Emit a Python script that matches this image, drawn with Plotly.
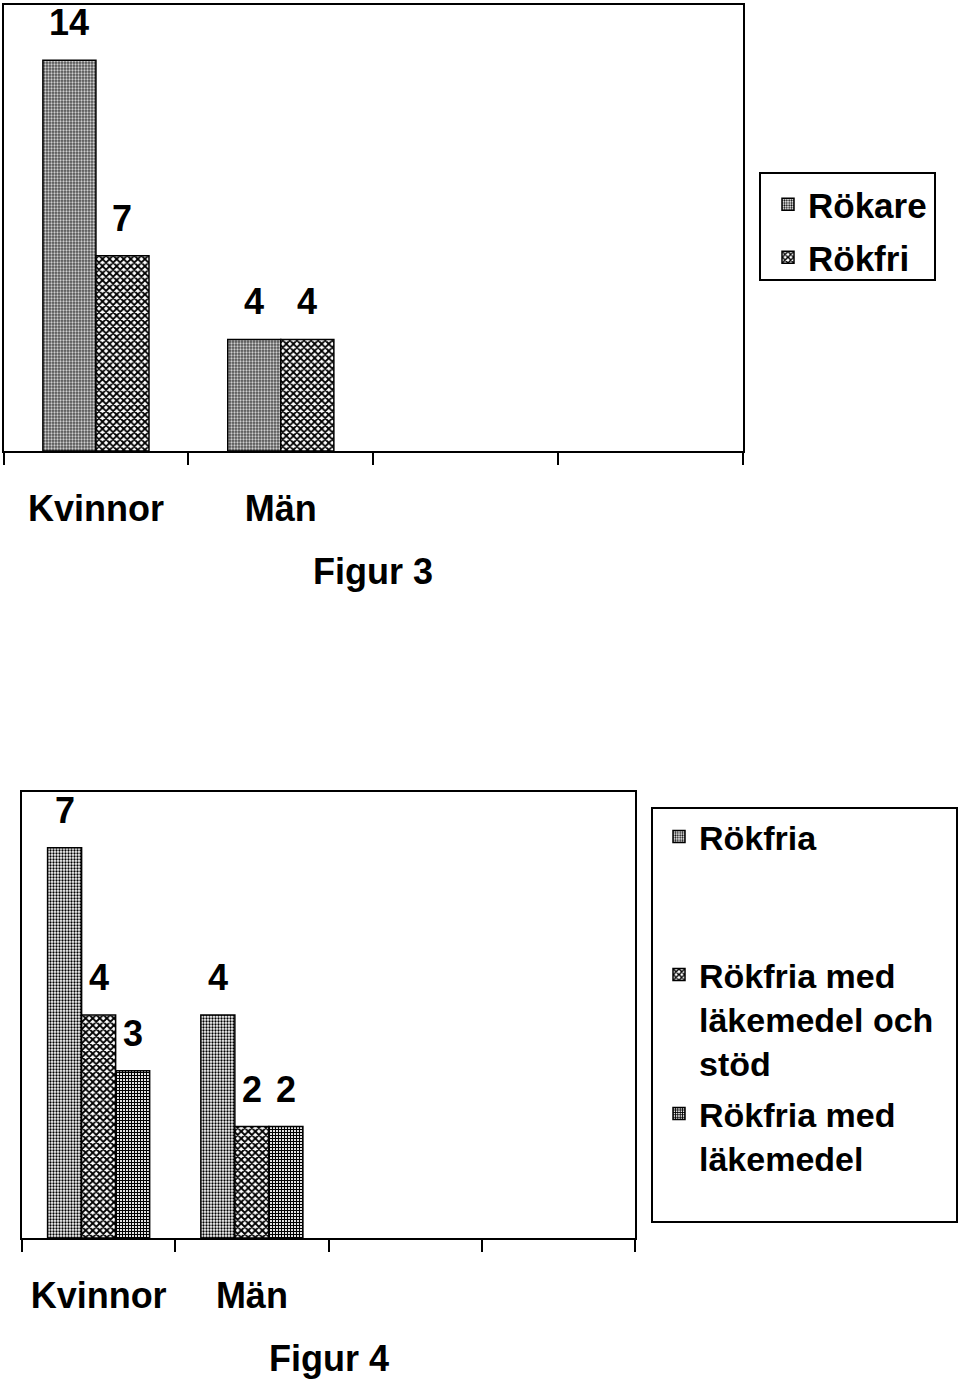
import plotly.graph_objects as go

# ---------------- data ----------------
fig3_categories = ["Kvinnor", "Män"]
fig3_series = ["Rökare", "Rökfri"]
fig3_rokare = [14, 4]
fig3_rokfri = [7, 4]

fig4_categories = ["Kvinnor", "Män"]
fig4_series = ["Rökfria", "Rökfria med<br>läkemedel och<br>stöd", "Rökfria med<br>läkemedel"]
fig4_rokfria = [7, 4]
fig4_med_stod = [4, 2]
fig4_med_lakemedel = [3, 2]

n_slots = 4  # category slots on each x axis (two are empty)

W, H = 960, 1384
FONT = "Liberation Sans, Arial, sans-serif"
TXT = 36

patterns = [
    dict(shape=".", size=3, solidity=0.45, fgcolor="black", bgcolor="white", fillmode="replace"),
    dict(shape="x", size=5, solidity=0.6, fgcolor="black", bgcolor="white", fillmode="replace"),
    dict(shape="+", size=3, solidity=0.65, fgcolor="black", bgcolor="white", fillmode="replace"),
]

fig = go.Figure()


def px_x(p):
    return p / W


def px_y(p):
    return 1 - p / H


def add_group(xaxis, yaxis, cats, series_names, series_vals, group_width, legends, annotations):
    n = len(series_vals)
    bw = group_width / n
    xs = list(range(len(cats)))
    for j, (name, vals) in enumerate(zip(series_names, series_vals)):
        off = -group_width / 2 + j * bw
        fig.add_trace(go.Bar(
            x=xs, y=vals, name=name, width=bw, offset=off,
            xaxis=xaxis, yaxis=yaxis,
            marker=dict(color="white", pattern=patterns[j], line=dict(color="black", width=1.5)),
            legend=legends[j], showlegend=True,
        ))
        for i, v in enumerate(vals):
            annotations.append(dict(
                x=i + off + bw / 2, y=v, xref=xaxis, yref=yaxis,
                text=str(v), showarrow=False, yanchor="bottom", yshift=15,
                font=dict(family=FONT, size=TXT, color="black", weight="bold"),
            ))


annotations = []
add_group("x", "y", fig3_categories, fig3_series, [fig3_rokare, fig3_rokfri], 0.574,
          ["legend", "legend2"], annotations)
add_group("x2", "y2", fig4_categories, fig4_series,
          [fig4_rokfria, fig4_med_stod, fig4_med_lakemedel], 0.666,
          ["legend3", "legend4", "legend5"], annotations)

# captions
annotations.append(dict(x=0.5, y=0, xref="x domain", yref="y domain", text="Figur 3",
                        showarrow=False, yanchor="top", yshift=-98,
                        font=dict(family=FONT, size=TXT, color="black", weight="bold")))
annotations.append(dict(x=0.5, y=0, xref="x2 domain", yref="y2 domain", text="Figur 4",
                        showarrow=False, yanchor="top", yshift=-98,
                        font=dict(family=FONT, size=TXT, color="black", weight="bold")))

boundaries = [i - 0.5 for i in range(n_slots + 1)]


def xaxis_cfg(domain, cats, anchor):
    return dict(
        domain=domain, anchor=anchor, range=[-0.5, n_slots - 0.5],
        tickmode="array", tickvals=list(range(len(cats))), ticktext=cats,
        ticks="", showline=True, linecolor="black", linewidth=2, mirror=True,
        showgrid=False, zeroline=False, ticklabelstandoff=25,
        tickfont=dict(family=FONT, size=TXT, color="black", weight="bold"),
        minor=dict(tickmode="array", tickvals=boundaries, ticks="outside", ticklen=12,
                   tickwidth=2, tickcolor="black", showgrid=False),
    )


def yaxis_cfg(domain, rng, anchor):
    return dict(domain=domain, anchor=anchor, range=rng, showline=True, linecolor="black",
                linewidth=2, mirror=True, showticklabels=False, ticks="", showgrid=False,
                zeroline=False)


def legend_cfg(x_px, top_px, size):
    return dict(x=px_x(x_px), y=px_y(top_px), xanchor="left", yanchor="top",
                bgcolor="rgba(0,0,0,0)", borderwidth=0, valign="top",
                font=dict(family=FONT, size=size, color="black", weight="bold"))


shapes = [
    dict(type="rect", xref="paper", yref="paper", x0=px_x(760), x1=px_x(935),
         y0=px_y(280), y1=px_y(173), line=dict(color="black", width=2)),
    dict(type="rect", xref="paper", yref="paper", x0=px_x(652), x1=px_x(957),
         y0=px_y(1222), y1=px_y(808), line=dict(color="black", width=2)),
]

fig.update_layout(
    width=W, height=H, margin=dict(l=0, r=0, t=0, b=0),
    paper_bgcolor="white", plot_bgcolor="white",
    barmode="overlay", showlegend=True,
    xaxis=xaxis_cfg([px_x(3.5), px_x(743)], fig3_categories, "y"),
    yaxis=yaxis_cfg([px_y(451), px_y(4.5)], [0, 16], "x"),
    xaxis2=xaxis_cfg([px_x(22), px_x(635)], fig4_categories, "y2"),
    yaxis2=yaxis_cfg([px_y(1238), px_y(792)], [0, 8], "x2"),
    legend=legend_cfg(768, 175, 35),
    legend2=legend_cfg(768, 228, 35),
    legend3=legend_cfg(659, 808, 34),
    legend4=legend_cfg(659, 946, 34),
    legend5=legend_cfg(659, 1085, 34),
    annotations=annotations,
    shapes=shapes,
)

fig.write_html("out.html")
